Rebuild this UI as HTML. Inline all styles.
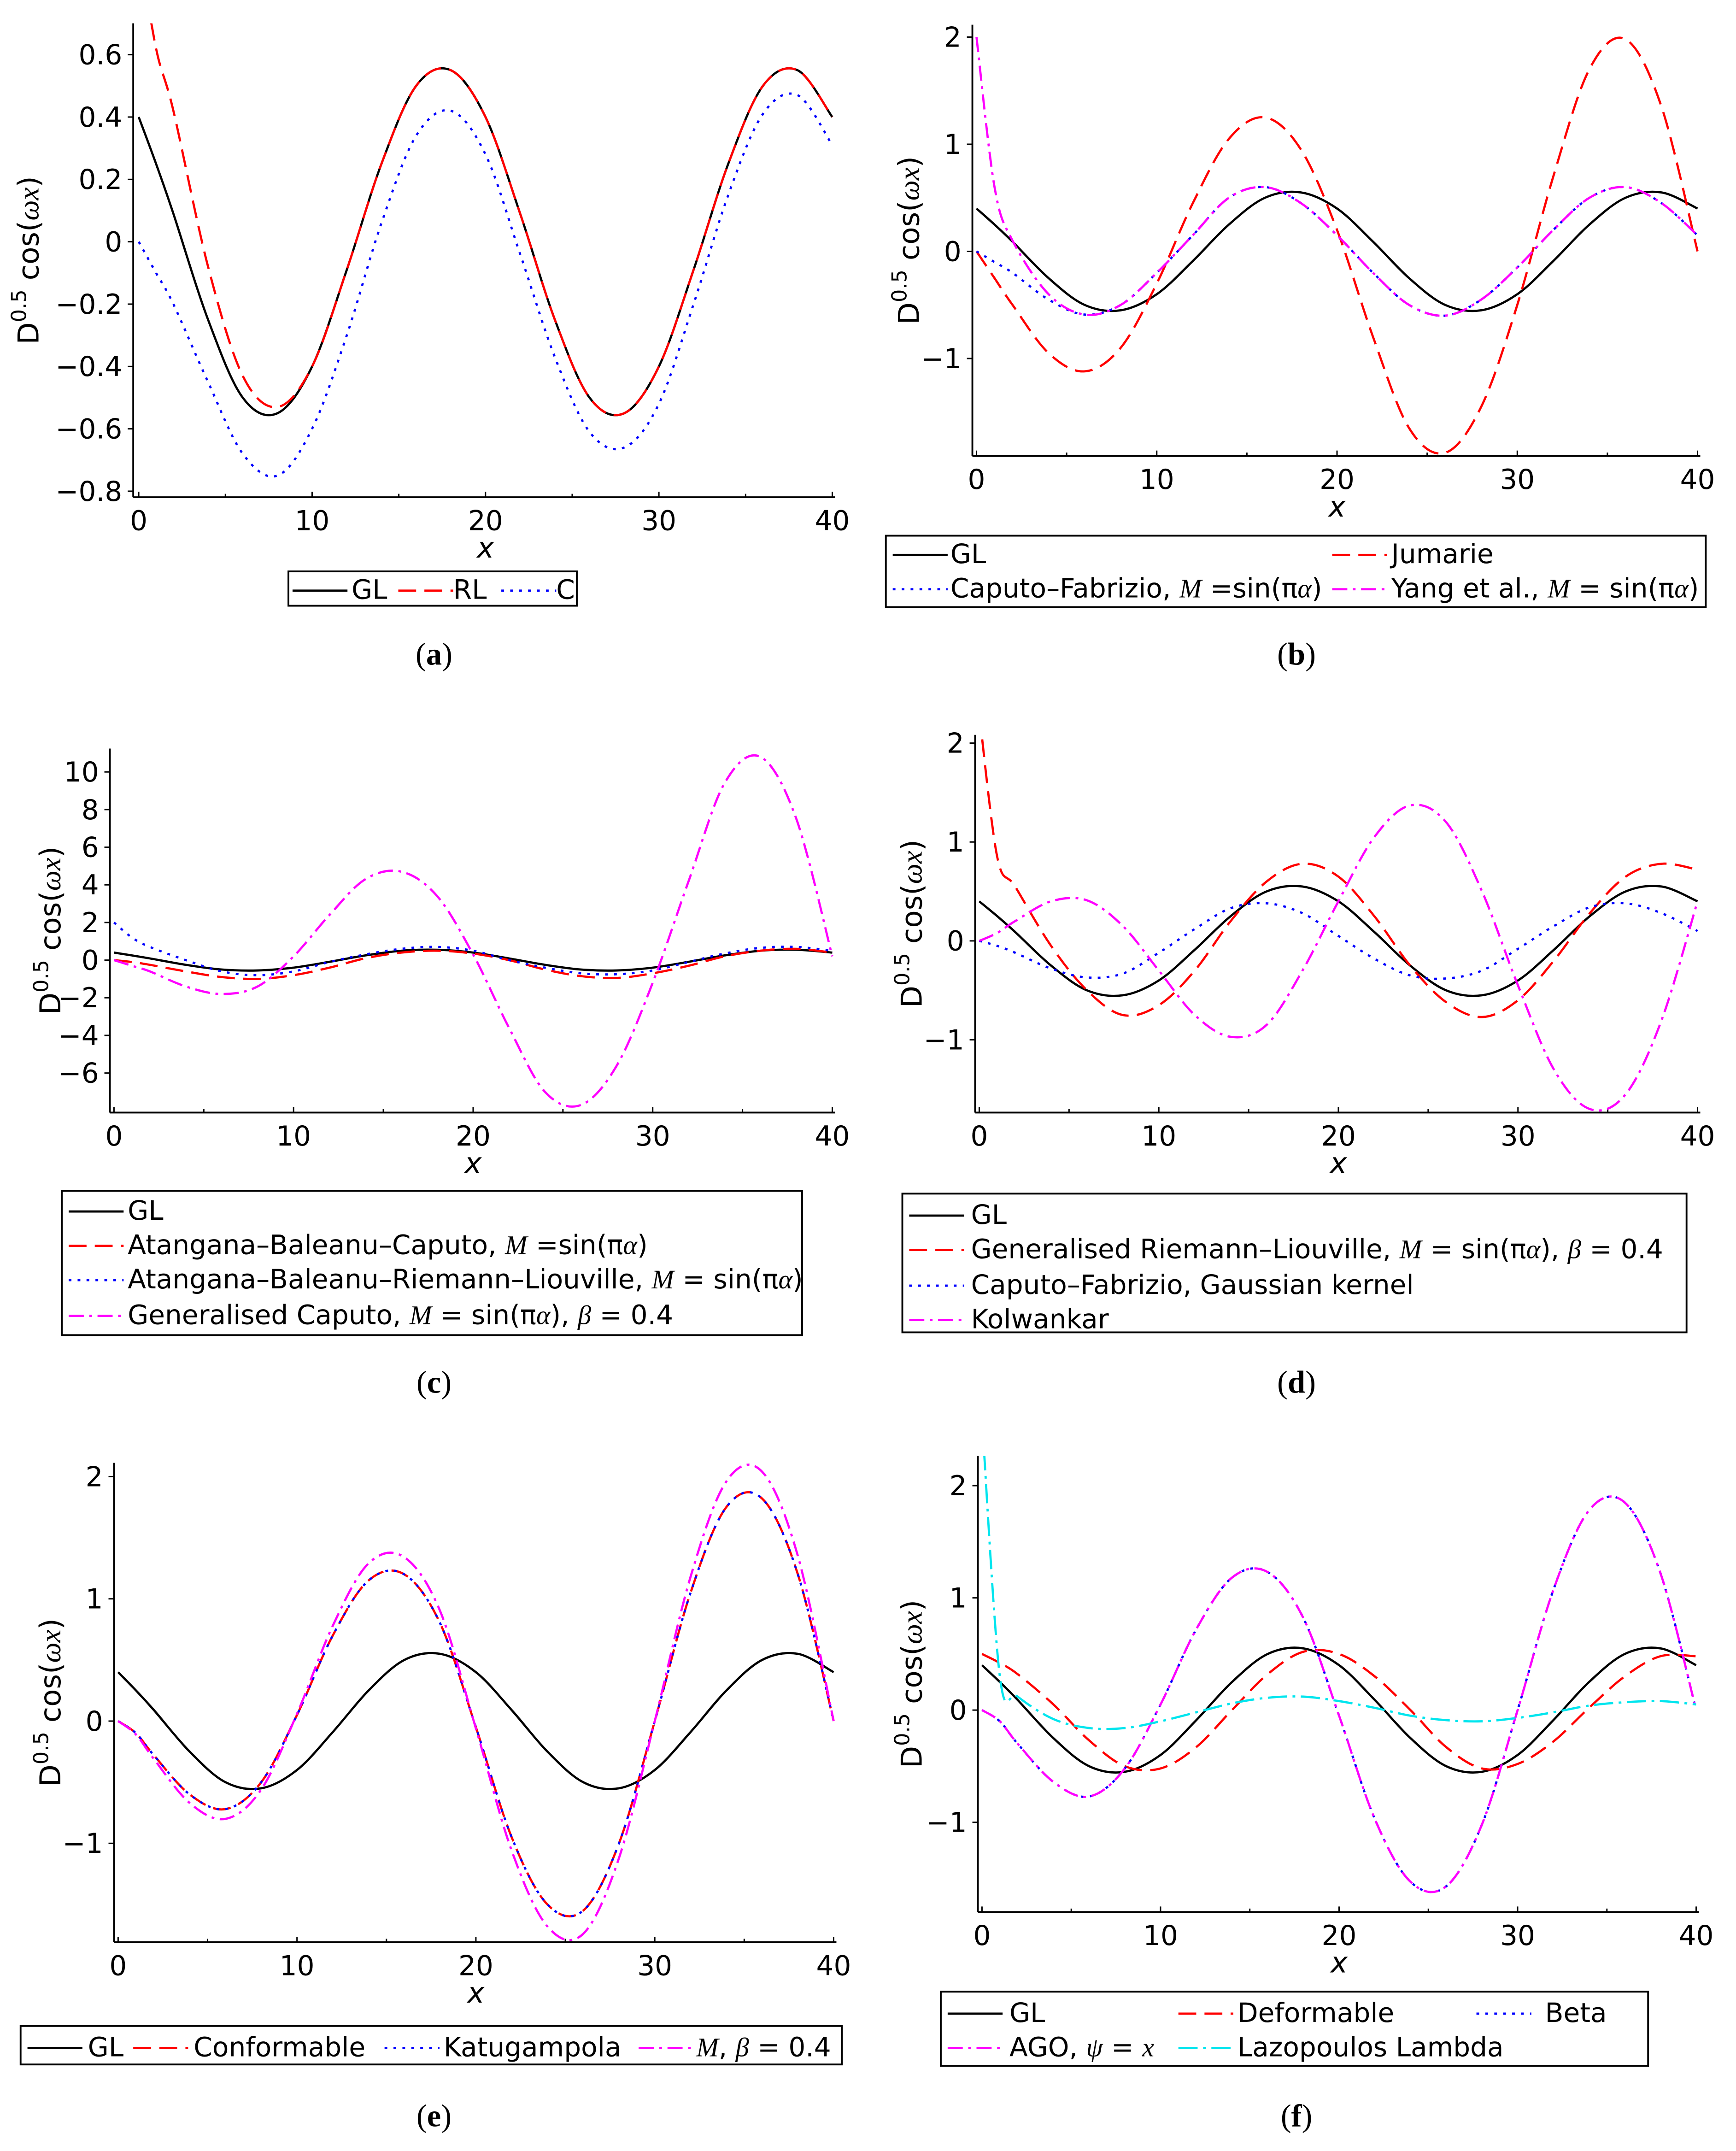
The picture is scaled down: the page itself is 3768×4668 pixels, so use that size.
<!DOCTYPE html>
<html><head><meta charset="utf-8"><style>
html,body{margin:0;padding:0;background:#fff;}
svg{display:block;}
text{font-family:"DejaVu Sans","Liberation Sans",sans-serif;}
.cap{font-family:"Liberation Serif",serif;font-size:23px;}
</style></head><body>
<svg id="fig" width="3768" height="4668" viewBox="0 0 1264 1566" preserveAspectRatio="none" xmlns="http://www.w3.org/2000/svg"></svg>
<script>
const xs = [0,1,2,4,6,8,10,12,14,16,18,20,22,24,26,28,30,32,34,36,38,40];
const glVals = [0.40,0.25,0.09,-0.25,-0.50,-0.55,-0.40,-0.09,0.25,0.50,0.55,0.40,0.09,-0.25,-0.50,-0.55,-0.40,-0.09,0.25,0.50,0.55,0.40];
const rlVals = [0.95,0.62,0.42,-0.08,-0.43,-0.53,-0.40,-0.09,0.25,0.50,0.55,0.40,0.09,-0.25,-0.50,-0.55,-0.40,-0.09,0.25,0.50,0.55,0.40];
const cVals = [0,-0.1,-0.2,-0.45,-0.68,-0.75,-0.6,-0.3,0.06,0.34,0.42,0.28,-0.04,-0.37,-0.61,-0.66,-0.52,-0.2,0.15,0.41,0.47,0.31];
const jumarieVals = [0,-0.25,-0.5,-0.95,-1.12,-0.9,-0.3,0.45,1.05,1.25,0.95,0.2,-0.8,-1.65,-1.88,-1.45,-0.5,0.7,1.7,1.98,1.35,0.0];
const cfVals = [0,-0.1,-0.2,-0.45,-0.59,-0.5,-0.2,0.15,0.5,0.6,0.45,0.15,-0.2,-0.5,-0.6,-0.45,-0.15,0.2,0.5,0.6,0.45,0.15];
const yangVals = [2.0,0.6,0.1,-0.4,-0.59,-0.5,-0.2,0.15,0.5,0.6,0.45,0.15,-0.2,-0.5,-0.6,-0.45,-0.15,0.2,0.5,0.6,0.45,0.15];
const abcVals = [0,-0.1,-0.25,-0.6,-0.9,-1.0,-0.8,-0.4,0.1,0.4,0.5,0.35,0,-0.5,-0.85,-0.95,-0.7,-0.3,0.2,0.5,0.6,0.4];
const abrlVals = [2.0,1.2,0.7,0,-0.6,-0.8,-0.6,-0.1,0.3,0.6,0.7,0.5,0,-0.4,-0.7,-0.75,-0.55,-0.1,0.35,0.65,0.7,0.5];
const genCaputoVals = [0,-0.3,-0.6,-1.4,-1.8,-1.4,0.2,2.4,4.3,4.7,3.4,0.3,-3.6,-7.0,-7.7,-5.6,-1.2,4.2,9.4,10.8,7.5,0.2];
const genRLVals = [2.3,0.85,0.55,-0.05,-0.5,-0.75,-0.65,-0.3,0.2,0.6,0.78,0.65,0.25,-0.25,-0.62,-0.77,-0.6,-0.2,0.28,0.65,0.78,0.72];
const cfGaussVals = [0,-0.05,-0.12,-0.28,-0.37,-0.33,-0.12,0.12,0.33,0.38,0.28,0.05,-0.18,-0.35,-0.38,-0.3,-0.08,0.15,0.34,0.38,0.28,0.1];
const kolwankarVals = [0,0.08,0.2,0.4,0.41,0.15,-0.3,-0.75,-0.97,-0.85,-0.3,0.4,1.05,1.37,1.2,0.5,-0.45,-1.3,-1.7,-1.55,-0.8,0.4];
const conformableVals = [0,-0.1,-0.28,-0.6,-0.72,-0.5,0.05,0.7,1.15,1.2,0.8,-0.05,-0.95,-1.5,-1.55,-1.0,0.0,1.05,1.75,1.82,1.2,0.0];
const katugampolaVals = [0,-0.1,-0.28,-0.6,-0.72,-0.5,0.05,0.7,1.15,1.2,0.8,-0.05,-0.95,-1.5,-1.55,-1.0,0.0,1.05,1.75,1.82,1.2,0.0];
const mVals = [0,-0.11,-0.31,-0.67,-0.8,-0.56,0.06,0.78,1.29,1.34,0.9,-0.06,-1.06,-1.68,-1.74,-1.12,0,1.18,1.96,2.04,1.35,0];
const deformableVals = [0.5,0.42,0.32,0.05,-0.27,-0.5,-0.52,-0.33,0,0.32,0.52,0.5,0.3,0,-0.33,-0.52,-0.48,-0.28,0.02,0.3,0.48,0.48];
const betaVals = [0,-0.1,-0.3,-0.64,-0.77,-0.52,0.05,0.72,1.18,1.23,0.82,-0.05,-0.97,-1.53,-1.57,-1.02,0.0,1.07,1.78,1.85,1.22,0.0];
const agoVals = [0,-0.1,-0.3,-0.64,-0.77,-0.52,0.05,0.72,1.18,1.23,0.82,-0.05,-0.97,-1.53,-1.57,-1.02,0.0,1.07,1.78,1.85,1.22,0.0];
const lazopoulosVals = [2.6,0.3,0.12,-0.08,-0.16,-0.16,-0.1,-0.02,0.06,0.11,0.12,0.08,0.02,-0.05,-0.09,-0.1,-0.07,-0.02,0.04,0.07,0.08,0.05];
const xTickLabels = ["0","10","20","30","40"];
const yTicksA = [0.6,0.4,0.2,0,-0.2,-0.4,-0.6,-0.8];
const yTicksB = [2,1,0,-1];
const yTicksC = [10,8,6,4,2,0,-2,-4,-6];

const NS="http://www.w3.org/2000/svg";
const svg=document.getElementById('fig');
function mk(tag,attrs,parent){const e=document.createElementNS(NS,tag);for(const k in attrs)e.setAttribute(k,attrs[k]);(parent||svg).appendChild(e);return e;}
const STY={
 black:{stroke:'#000',dash:''},
 red:{stroke:'#ff0000',dash:'13,6'},
 blue:{stroke:'#0000ff',dash:'2,4.5'},
 mag:{stroke:'#ff00ff',dash:'11,4,2,4'},
 cyan:{stroke:'#00e5ee',dash:'14,4,2,4'}
};
function smooth(pts){let d='M'+pts[0][0].toFixed(2)+','+pts[0][1].toFixed(2);
 for(let i=0;i<pts.length-1;i++){const p0=pts[Math.max(0,i-1)],p1=pts[i],p2=pts[i+1],p3=pts[Math.min(pts.length-1,i+2)];
  const c1=[p1[0]+(p2[0]-p0[0])/6,p1[1]+(p2[1]-p0[1])/6],c2=[p2[0]-(p3[0]-p1[0])/6,p2[1]-(p3[1]-p1[1])/6];
  d+='C'+c1[0].toFixed(2)+','+c1[1].toFixed(2)+' '+c2[0].toFixed(2)+','+c2[1].toFixed(2)+' '+p2[0].toFixed(2)+','+p2[1].toFixed(2);}
 return d;}

const panels=[
 {id:'a',x0:101,x1:606,top:17,bot:362,axX:97,y0:176,yu:227,ticks:yTicksA,fmt:v=>v.toFixed(1).replace('0.0','0'),ylx:22,
  series:[['gl',glVals,'black'],['rl',rlVals,'red'],['c',cVals,'blue']]},
 {id:'b',x0:711,x1:1236,top:18,bot:332,axX:708,y0:183,yu:78,ticks:yTicksB,fmt:v=>String(v),ylx:663,
  series:[['gl',glVals,'black'],['jumarie',jumarieVals,'red'],['caputo-fabrizio',cfVals,'blue'],['yang',yangVals,'mag']]},
 {id:'c',x0:83,x1:606,top:545,bot:810,axX:80,y0:699,yu:13.7,ticks:yTicksC,fmt:v=>String(v),ylx:38,
  series:[['gl',glVals,'black'],['atangana-baleanu-caputo',abcVals,'red'],['atangana-baleanu-rl',abrlVals,'blue'],['generalised-caputo',genCaputoVals,'mag']]},
 {id:'d',x0:713,x1:1236,top:535,bot:810,axX:710,y0:685,yu:72,ticks:yTicksB,fmt:v=>String(v),ylx:665,
  series:[['gl',glVals,'black'],['generalised-rl',genRLVals,'red'],['cf-gaussian',cfGaussVals,'blue'],['kolwankar',kolwankarVals,'mag']]},
 {id:'e',x0:86,x1:607,top:1065,bot:1414,axX:83,y0:1253,yu:89,ticks:yTicksB,fmt:v=>String(v),ylx:38,
  series:[['gl',glVals,'black'],['conformable',conformableVals,'red'],['katugampola',katugampolaVals,'blue'],['m-beta',mVals,'mag']]},
 {id:'f',x0:715,x1:1235,top:1060,bot:1392,axX:712,y0:1245,yu:81.7,ticks:yTicksB,fmt:v=>String(v),ylx:665,
  series:[['gl',glVals,'black'],['deformable',deformableVals,'red'],['beta',betaVals,'blue'],['ago',agoVals,'mag'],['lazopoulos-lambda',lazopoulosVals,'cyan']]}
];
panels.forEach(p=>{
 const g=mk('g',{});
 
 
 const sx=x=>p.x0+(p.x1-p.x0)*x/40, sy=v=>p.y0-v*p.yu;
 const cp=mk('clipPath',{id:'clip'+p.id},g);mk('rect',{x:p.axX,y:p.top,width:p.x1-p.axX+4,height:p.bot-p.top},cp);
 const ya=mk('line',{x1:p.axX,y1:p.top,x2:p.axX,y2:p.bot,stroke:'#000','stroke-width':1.3},g);
 
 
 const xa=mk('line',{x1:p.axX,y1:p.bot,x2:p.x1+2,y2:p.bot,stroke:'#000','stroke-width':1.3},g);
 
 
 xTickLabels.forEach((l,i)=>{const x=sx(i*10);
  mk('line',{x1:x,y1:p.bot,x2:x,y2:p.bot-4,stroke:'#000','stroke-width':1},g);
  if(i<4)mk('line',{x1:sx(i*10+5),y1:p.bot,x2:sx(i*10+5),y2:p.bot-2.5,stroke:'#000','stroke-width':1},g);
  const t=mk('text',{x:x,y:p.bot+24,'font-size':20,'text-anchor':'middle'},g);t.textContent=l;
  
  });
 p.ticks.forEach(v=>{const y=sy(v);
  mk('line',{x1:p.axX,y1:y,x2:p.axX-4,y2:y,stroke:'#000','stroke-width':1},g);
  const t=mk('text',{x:p.axX-8,y:y+7,'font-size':20,'text-anchor':'end'},g);t.textContent=p.fmt(v).replace('-','\u2212');
  
  });
 const xl=mk('text',{x:(p.x0+p.x1)/2,y:p.bot+44,'font-size':21,'font-style':'italic','text-anchor':'middle','font-family':'Liberation Serif, serif'},g);xl.textContent='x';
 
 
 const yc=(p.top+p.bot)/2;
 const yl=mk('text',{x:0,y:0,'font-size':21,'text-anchor':'middle',transform:'translate('+(p.ylx+6)+','+yc+') rotate(-90)'},g);
 yl.innerHTML='D<tspan dy="-9" font-size="15">0.5</tspan><tspan dy="9"> cos(</tspan><tspan font-style="italic" font-family="Liberation Serif, serif">ωx</tspan>)';
 
 
 const sg=mk('g',{'clip-path':'url(#clip'+p.id+')'},g);
 p.series.forEach(s=>{const st=STY[s[2]];const pts=xs.map((x,i)=>[sx(x),sy(s[1][i])]);
  const path=mk('path',{d:smooth(pts),fill:'none',stroke:st.stroke,'stroke-width':1.6},sg);
  if(st.dash)path.setAttribute('stroke-dasharray',st.dash);
  
  });
});
function legend(name,box,entries){const g=mk('g',{});
 
 
 mk('rect',{x:box[0],y:box[1],width:box[2],height:box[3],fill:'#fff',stroke:'#000','stroke-width':1.3},g);
 entries.forEach(e=>{const st=STY[e[0]];const l=mk('line',{x1:e[1],y1:e[3]-6,x2:e[1]+40,y2:e[3]-6,stroke:st.stroke,'stroke-width':1.6},g);
  if(st.dash)l.setAttribute('stroke-dasharray',st.dash);
  const t=mk('text',{x:e[2],y:e[3],'font-size':19.5},g);t.innerHTML=e[4];
  
  });}
const I=s=>'<tspan font-style="italic" font-family="Liberation Serif, serif">'+s+'</tspan>';
const SIN='sin(π'+I('α')+')';
legend('legend-a',[210,416,210,25],[['black',213,256,436,'GL'],['red',290,330,436,'RL'],['blue',365,405,436,'C']]);
legend('legend-b',[645,390,597,52],[['black',650,692,410,'GL'],['red',970,1013,410,'Jumarie'],['blue',650,692,435,'Caputo–Fabrizio, '+I('M')+' =sin(π'+I('α')+')'],['mag',970,1013,435,'Yang et al., '+I('M')+' = '+SIN]]);
legend('legend-c',[45,867,539,105],[['black',50,93,888,'GL'],['red',50,93,913,'Atangana–Baleanu–Caputo, '+I('M')+' =sin(π'+I('α')+')'],['blue',50,93,938,'Atangana–Baleanu–Riemann–Liouville, '+I('M')+' = '+SIN],['mag',50,93,964,'Generalised Caputo, '+I('M')+' = '+SIN+', '+I('β')+' = 0.4']]);
legend('legend-d',[657,869,571,101],[['black',662,707,891,'GL'],['red',662,707,916,'Generalised Riemann–Liouville, '+I('M')+' = '+SIN+', '+I('β')+' = 0.4'],['blue',662,707,942,'Caputo–Fabrizio, Gaussian kernel'],['mag',662,707,967,'Kolwankar']]);
legend('legend-e',[15,1475,598,28],[['black',20,64,1497,'GL'],['red',97,141,1497,'Conformable'],['blue',280,323,1497,'Katugampola'],['mag',465,507,1497,I('M')+', '+I('β')+' = 0.4']]);
legend('legend-f',[685,1450,515,54],[['black',690,735,1472,'GL'],['red',858,901,1472,'Deformable'],['blue',1075,1125,1472,'Beta'],['mag',690,735,1497,'AGO, '+I('ψ')+' = '+I('x')],['cyan',858,901,1497,'Lazopoulos Lambda']]);
[['a',316,484],['b',944,484],['c',316,1014],['d',944,1014],['e',316,1548],['f',944,1548]].forEach(c=>{
 const t=mk('text',{x:c[1],y:c[2],'text-anchor':'middle',class:'cap'});t.innerHTML='(<tspan font-weight="bold">'+c[0]+'</tspan>)';
 
 });
</script>
</body></html>
